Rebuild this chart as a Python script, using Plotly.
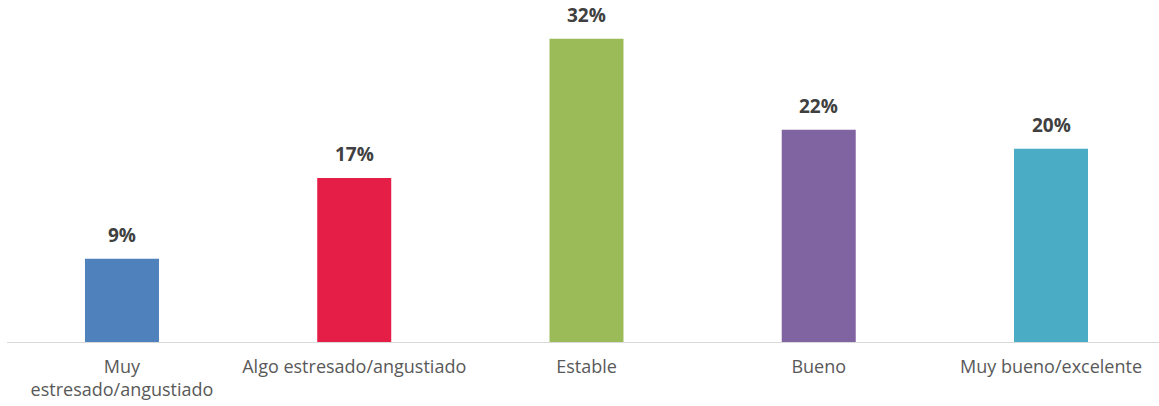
import plotly.graph_objects as go

categories = ["Muy<br>estresado/angustiado", "Algo estresado/angustiado", "Estable", "Bueno", "Muy bueno/excelente"]
values = [8.8, 17.3, 32.0, 22.4, 20.4]
labels = ["9%", "17%", "32%", "22%", "20%"]
colors = ["#4F81BD", "#E51E48", "#9BBB59", "#8064A2", "#4BACC6"]

xs = list(range(len(categories)))

fig = go.Figure(go.Bar(
    x=xs,
    y=values,
    marker=dict(color=colors, line=dict(width=0)),
    width=0.3186,
    hoverinfo="skip",
))

for x, v, t in zip(xs, values, labels):
    fig.add_annotation(
        x=x, y=v, text=t, showarrow=False, yanchor="bottom", yshift=9,
        font=dict(family="Open Sans", size=19, color="#404040", weight="bold"),
    )

fig.update_layout(
    width=1159, height=406,
    margin=dict(l=7, r=0, t=0, b=64, autoexpand=False),
    paper_bgcolor="white", plot_bgcolor="white",
    showlegend=False,
    xaxis=dict(
        tickmode="array", tickvals=xs, ticktext=categories,
        range=[-0.495, 4.465], showgrid=False, zeroline=False,
        showline=True, linecolor="#D9D9D9", linewidth=1,
        ticks="", automargin=False, ticklabelstandoff=8,
        tickfont=dict(family="Open Sans", size=18, color="#595959"),
    ),
    yaxis=dict(range=[0, 36.1], visible=False, showgrid=False, zeroline=False, automargin=False),
)

fig.write_html("out.html", config={"displayModeBar": False},
               post_script="document.body.style.margin='0';")
